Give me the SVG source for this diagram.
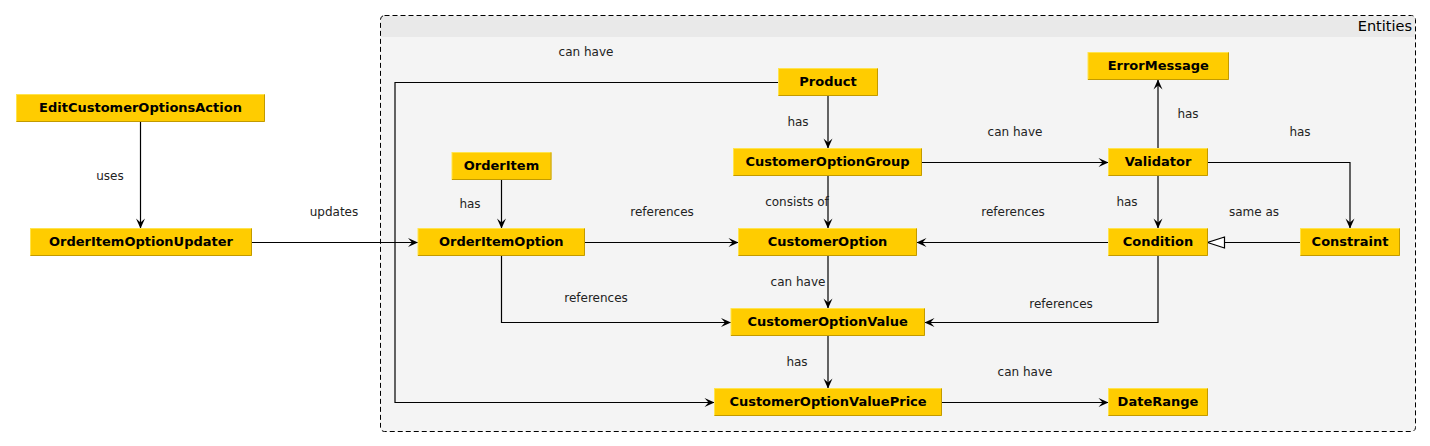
<svg xmlns="http://www.w3.org/2000/svg" width="1430" height="446" viewBox="0 0 1430 446">
<style>
.n{fill:#ffcc00;stroke:#ffe44d;stroke-width:1}
.sh{fill:none;stroke:#c29a00;stroke-width:1}
.t{font-family:"DejaVu Sans",Verdana,sans-serif;font-size:13px;font-weight:bold;fill:#000;text-anchor:middle}
.l{font-family:"DejaVu Sans",Verdana,sans-serif;font-size:12px;fill:#222;text-anchor:middle}
.c{fill:none;stroke:#000;stroke-width:1.2}
.a{marker-end:url(#arr)}
.g{marker-end:url(#tri)}
</style>
<defs>
<marker id="arr" viewBox="-11 -5 12 10" refX="0" refY="0" markerWidth="12" markerHeight="10" markerUnits="userSpaceOnUse" orient="auto">
<path d="M0,0 L-10,-4.5 L-6,0 L-10,4.5 Z" fill="#000"/>
</marker>
<marker id="tri" viewBox="-19 -7 20 14" refX="0" refY="0" markerWidth="20" markerHeight="14" markerUnits="userSpaceOnUse" orient="auto">
<path d="M0,0 L-17,-5.5 L-17,5.5 Z" fill="#fff" stroke="#000" stroke-width="1.2"/>
</marker>
</defs>
<rect width="1430" height="446" fill="#fff"/>
<g id="entities">
<rect x="380.5" y="15.5" width="1035" height="416" rx="4" fill="#f4f4f4"/>
<path d="M381,37 V19.5 Q381,16 384.5,16 H1411.5 Q1415,16 1415,19.5 V37 Z" fill="#e9e9e9"/>
<rect x="380.5" y="15.5" width="1035" height="416" rx="4" fill="none" stroke="#000" stroke-width="1" stroke-dasharray="5,3"/>
<text x="1412" y="31" font-family="DejaVu Sans, Verdana, sans-serif" font-size="14.5" fill="#000" text-anchor="end">Entities</text>
</g>
<g id="connectors">
<path class="c a" d="M140.5,121.5 V228.5"/>
<text class="l" x="110" y="180">uses</text>
<path class="c a" d="M251.5,242.5 H418"/>
<text class="l" x="334" y="216">updates</text>
<path class="c a" d="M778.5,82.5 H395 V402.5 H714.5"/>
<text class="l" x="586" y="56">can have</text>
<path class="c a" d="M828,95.5 V148.5"/>
<text class="l" x="798" y="126">has</text>
<path class="c a" d="M501.5,179.5 V228.5"/>
<text class="l" x="470" y="208">has</text>
<path class="c a" d="M921.5,162.5 H1108.5"/>
<text class="l" x="1015" y="136">can have</text>
<path class="c a" d="M828,175.5 V228.5"/>
<text class="l" x="797" y="206">consists of</text>
<path class="c a" d="M1158,148.5 V79.5"/>
<text class="l" x="1188" y="118">has</text>
<path class="c a" d="M1207.5,162.5 H1350 V228.5"/>
<text class="l" x="1300" y="136">has</text>
<path class="c a" d="M1158,175.5 V228.5"/>
<text class="l" x="1127" y="206">has</text>
<path class="c a" d="M584.5,242.5 H738.5"/>
<text class="l" x="662" y="216">references</text>
<path class="c a" d="M1108.5,242.5 H916.5"/>
<text class="l" x="1013" y="216">references</text>
<path class="c g" d="M1300.5,242.5 H1207.5"/>
<text class="l" x="1254" y="216">same as</text>
<path class="c a" d="M828,255.5 V308.5"/>
<text class="l" x="798" y="286">can have</text>
<path class="c a" d="M501.5,255.5 V322.5 H731"/>
<text class="l" x="596" y="302">references</text>
<path class="c a" d="M1158,255.5 V322.5 H924.5"/>
<text class="l" x="1061" y="308">references</text>
<path class="c a" d="M828,335.5 V388.5"/>
<text class="l" x="797" y="366">has</text>
<path class="c a" d="M941.5,402.5 H1108.5"/>
<text class="l" x="1025" y="376">can have</text>
</g>
<g id="EditCustomerOptionsAction"><rect class="n" x="16.5" y="94.5" width="248" height="27"/><path class="sh" d="M264.5,94.5 V121.5 H16.5"/><text class="t" x="140.5" y="111.5">EditCustomerOptionsAction</text></g>
<g id="OrderItemOptionUpdater"><rect class="n" x="30.5" y="228.5" width="221" height="27"/><path class="sh" d="M251.5,228.5 V255.5 H30.5"/><text class="t" x="141" y="245.5">OrderItemOptionUpdater</text></g>
<g id="OrderItem"><rect class="n" x="452" y="152.5" width="99" height="27"/><path class="sh" d="M551,152.5 V179.5 H452"/><text class="t" x="501.5" y="169.5">OrderItem</text></g>
<g id="OrderItemOption"><rect class="n" x="418" y="228.5" width="166.5" height="27"/><path class="sh" d="M584.5,228.5 V255.5 H418"/><text class="t" x="501.25" y="245.5">OrderItemOption</text></g>
<g id="Product"><rect class="n" x="778.5" y="68.5" width="99" height="27"/><path class="sh" d="M877.5,68.5 V95.5 H778.5"/><text class="t" x="828" y="85.5">Product</text></g>
<g id="CustomerOptionGroup"><rect class="n" x="733.5" y="148.5" width="188" height="27"/><path class="sh" d="M921.5,148.5 V175.5 H733.5"/><text class="t" x="827.5" y="165.5">CustomerOptionGroup</text></g>
<g id="CustomerOption"><rect class="n" x="738.5" y="228.5" width="178" height="27"/><path class="sh" d="M916.5,228.5 V255.5 H738.5"/><text class="t" x="827.5" y="245.5">CustomerOption</text></g>
<g id="CustomerOptionValue"><rect class="n" x="731" y="308.5" width="193.5" height="27"/><path class="sh" d="M924.5,308.5 V335.5 H731"/><text class="t" x="827.75" y="325.5">CustomerOptionValue</text></g>
<g id="CustomerOptionValuePrice"><rect class="n" x="714.5" y="388.5" width="227" height="27"/><path class="sh" d="M941.5,388.5 V415.5 H714.5"/><text class="t" x="828" y="405.5">CustomerOptionValuePrice</text></g>
<g id="ErrorMessage"><rect class="n" x="1088" y="52.5" width="140.5" height="27"/><path class="sh" d="M1228.5,52.5 V79.5 H1088"/><text class="t" x="1158.25" y="69.5">ErrorMessage</text></g>
<g id="Validator"><rect class="n" x="1108.5" y="148.5" width="99" height="27"/><path class="sh" d="M1207.5,148.5 V175.5 H1108.5"/><text class="t" x="1158" y="165.5">Validator</text></g>
<g id="Condition"><rect class="n" x="1108.5" y="228.5" width="99" height="27"/><path class="sh" d="M1207.5,228.5 V255.5 H1108.5"/><text class="t" x="1158" y="245.5">Condition</text></g>
<g id="Constraint"><rect class="n" x="1300.5" y="228.5" width="99" height="27"/><path class="sh" d="M1399.5,228.5 V255.5 H1300.5"/><text class="t" x="1350" y="245.5">Constraint</text></g>
<g id="DateRange"><rect class="n" x="1108.5" y="388.5" width="99" height="27"/><path class="sh" d="M1207.5,388.5 V415.5 H1108.5"/><text class="t" x="1158" y="405.5">DateRange</text></g>
</svg>
